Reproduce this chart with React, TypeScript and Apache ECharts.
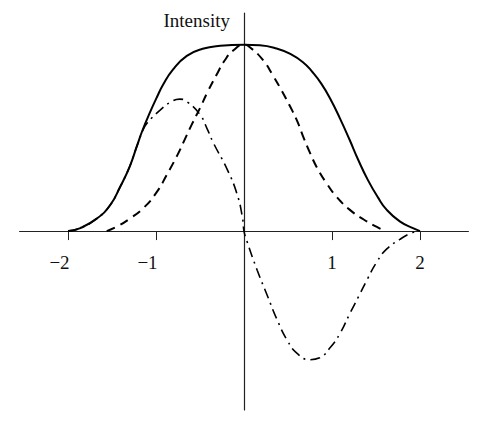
import React, { useEffect, useRef } from "react";
import * as echarts from "echarts";

const tickValues = [-2, -1, 1, 2];

const solidX = [-2, -1.86, -1.67, -1.52, -1.41, -1.3, -1.22, -1.15, -1.07, -0.99, -0.92, -0.81, -0.65, -0.47, -0.27, 0, 0.18, 0.37, 0.52, 0.67, 0.78, 0.88, 0.98, 1.09, 1.2, 1.3, 1.41, 1.52, 1.62, 1.77, 1.92, 2.0];
const solidY = [0, 0.016, 0.068, 0.14, 0.235, 0.345, 0.452, 0.545, 0.635, 0.718, 0.785, 0.865, 0.94, 0.978, 0.994, 1.0, 0.997, 0.98, 0.952, 0.906, 0.852, 0.79, 0.71, 0.605, 0.49, 0.38, 0.272, 0.182, 0.115, 0.052, 0.016, 0];

const dashX = [-1.56, -1.44, -1.3, -1.14, -0.99, -0.88, -0.76, -0.67, -0.59, -0.5, -0.41, -0.31, -0.22, -0.12, 0, 0.07, 0.22, 0.33, 0.43, 0.52, 0.6, 0.67, 0.75, 0.83, 0.94, 1.05, 1.2, 1.36, 1.51, 1.6];
const dashY = [0, 0.025, 0.066, 0.125, 0.21, 0.3, 0.405, 0.495, 0.575, 0.66, 0.75, 0.84, 0.915, 0.97, 1.0, 0.985, 0.915, 0.834, 0.752, 0.672, 0.595, 0.51, 0.42, 0.34, 0.255, 0.185, 0.115, 0.062, 0.022, 0];

const dotDashX = [-2, -1.86, -1.67, -1.52, -1.41, -1.3, -1.22, -1.15, -1.1, -0.95, -0.84, -0.73, -0.65, -0.5, -0.42, -0.35, -0.19, -0.08, -0.02, 0, 0.03, 0.15, 0.26, 0.38, 0.49, 0.6, 0.75, 0.86, 0.98, 1.09, 1.2, 1.32, 1.4, 1.51, 1.62, 1.77, 1.88, 1.97];
const dotDashY = [0, 0.016, 0.068, 0.14, 0.235, 0.345, 0.452, 0.54, 0.58, 0.65, 0.69, 0.708, 0.695, 0.625, 0.55, 0.475, 0.33, 0.2, 0.08, 0, -0.05, -0.21, -0.34, -0.48, -0.585, -0.655, -0.69, -0.68, -0.625, -0.55, -0.445, -0.335, -0.26, -0.165, -0.097, -0.045, -0.015, 0];

const pairs = (xs: number[], ys: number[]) => xs.map((x, i) => [x, ys[i]]);

const FONT = "'Liberation Serif', 'DejaVu Serif', serif";

export default function App() {
  const ref = useRef<HTMLDivElement>(null);
  useEffect(() => {
    if (!ref.current) return;
    const chart = echarts.init(ref.current, null, { renderer: "svg" });
    const lineBase = { type: "line", showSymbol: false, smooth: 0.5, silent: true, z: 3 };
    chart.setOption({
      animation: false,
      backgroundColor: "#ffffff",
      grid: { left: 19.6, right: 10.6, top: 13, bottom: 35 },
      xAxis: {
        type: "value",
        min: -2.55,
        max: 2.55,
        splitLine: { show: false },
        axisLine: { onZero: true, lineStyle: { color: "#222", width: 1.2 } },
        axisTick: { show: true, length: 9, customValues: tickValues, lineStyle: { color: "#222", width: 1 } },
        axisLabel: {
          customValues: tickValues,
          margin: -157,
          color: "#111",
          fontFamily: FONT,
          fontSize: 19,
          formatter: (v: number) => (v < 0 ? "{neg|\u2212" + Math.abs(v) + "}" : "{pos|" + v + "}"),
          rich: {
            neg: { fontFamily: FONT, fontSize: 19, color: "#111", padding: [0, 17, 0, 0] },
            pos: { fontFamily: FONT, fontSize: 19, color: "#111" },
          },
        },
      },
      yAxis: {
        type: "value",
        min: -0.96,
        max: 1.17,
        splitLine: { show: false },
        axisLine: { onZero: true, lineStyle: { color: "#222", width: 1.2 } },
        axisTick: { show: false },
        axisLabel: { show: false },
        name: "Intensity",
        nameLocation: "end",
        nameGap: -7.5,
        nameTextStyle: {
          fontFamily: FONT,
          fontSize: 19,
          color: "#111",
          align: "right",
          verticalAlign: "middle",
          padding: [0, 14, 0, 0],
        },
      },
      series: [
        { ...lineBase, name: "solid", data: pairs(solidX, solidY), lineStyle: { color: "#000", width: 2, type: "solid" } },
        { ...lineBase, name: "dashed", data: pairs(dashX, dashY), lineStyle: { color: "#000", width: 2, type: [9, 6] } },
        { ...lineBase, name: "dotDash", data: pairs(dotDashX, dotDashY), lineStyle: { color: "#000", width: 1.6, type: [10, 5, 2, 5] } },
      ],
    });
    return () => chart.dispose();
  }, []);
  return <div ref={ref} style={{ width: 479, height: 445, position: "absolute", left: 0, top: 0 }} />;
}
